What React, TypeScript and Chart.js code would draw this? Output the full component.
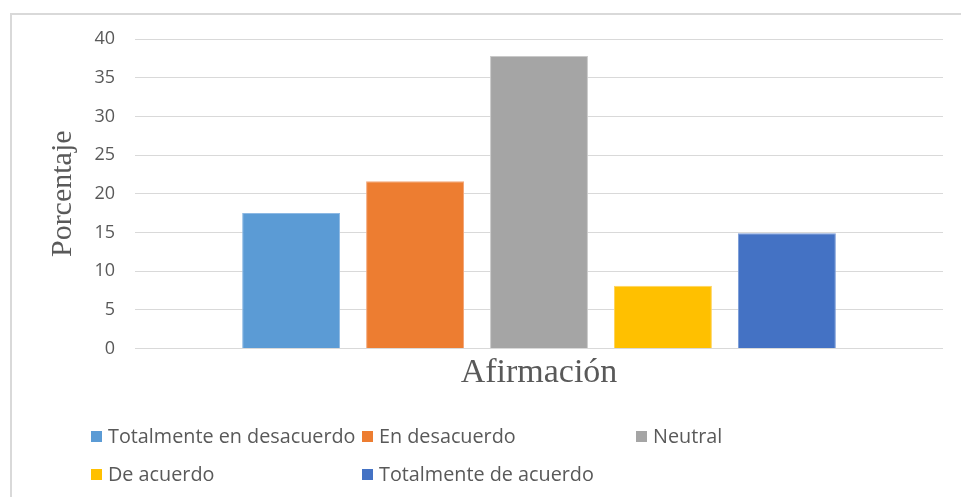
import { useEffect, useRef } from "react";
import { Chart, registerables } from "chart.js";

Chart.register(...registerables);

// Survey response distribution for one statement
const categories = [""];
const seriesNames = [
  "Totalmente en desacuerdo",
  "En desacuerdo",
  "Neutral",
  "De acuerdo",
  "Totalmente de acuerdo",
];
const seriesValues = [17.5, 21.6, 37.8, 8.1, 14.9];
const seriesColors = ["#5B9BD5", "#ED7D31", "#A5A5A5", "#FFC000", "#4472C4"];
const seriesEdges = ["#8DB9E4", "#F3A77A", "#C9C9C9", "#FFD45C", "#7C9CD8"];
const yMin = 0;
const yMax = 40;
const yStep = 5;
const xTitle = "Afirmación";
const yTitle = "Porcentaje";

const W = 961;
const H = 497;
const TEXT = "#595959";
const GRID = "#D9D9D9";

// legend grid: [left, centerY] for each entry
const legendSlots = [
  [91, 436],
  [362, 436],
  [636, 436],
  [91, 474],
  [362, 474],
];

export default function App() {
  const canvasRef = useRef<HTMLCanvasElement | null>(null);

  useEffect(() => {
    const canvas = canvasRef.current;
    if (!canvas) return;
    const chart = new Chart(canvas, {
      type: "bar",
      data: {
        labels: categories,
        datasets: seriesNames.map((name, i) => ({
          label: name,
          data: [seriesValues[i]],
          backgroundColor: seriesColors[i],
          borderColor: seriesEdges[i],
          borderWidth: 1,
          categoryPercentage: 0.767,
          barPercentage: 0.79,
        })),
      },
      options: {
        responsive: false,
        animation: false,
        devicePixelRatio: 1,
        layout: { padding: { top: 39, right: 18, bottom: 0, left: 0 } },
        plugins: {
          legend: { display: false },
          tooltip: { enabled: false },
        },
        scales: {
          x: {
            grid: { display: false, drawTicks: false },
            border: { display: false },
            ticks: { display: false },
            title: {
              display: true,
              text: xTitle,
              color: TEXT,
              font: { family: "'Liberation Serif', 'Times New Roman', serif", size: 34 },
              padding: { top: 0, bottom: 104 },
            },
            afterFit: (s: any) => {
              s.height = 148.5;
            },
          },
          y: {
            min: yMin,
            max: yMax,
            grid: { color: GRID, lineWidth: 1, drawTicks: false },
            border: { display: false },
            ticks: {
              stepSize: yStep,
              color: TEXT,
              padding: 20,
              font: { family: "'Open Sans', sans-serif", size: 18 },
            },
            title: {
              display: true,
              text: yTitle,
              color: TEXT,
              font: { family: "'Liberation Serif', 'Times New Roman', serif", size: 30 },
              padding: { top: 45, bottom: 0 },
            },
            afterFit: (s: any) => {
              s.width = 135;
            },
          },
        },
      },
    });
    return () => chart.destroy();
  }, []);

  return (
    <div
      style={{
        position: "fixed",
        left: 0,
        top: 0,
        width: W,
        height: H,
        background: "#fff",
        overflow: "hidden",
      }}
    >
      <div
        style={{
          position: "absolute",
          left: 10,
          top: 13,
          width: W,
          height: H,
          borderLeft: `2px solid ${GRID}`,
          borderTop: `2px solid ${GRID}`,
        }}
      />
      <canvas
        ref={canvasRef}
        width={W}
        height={H}
        style={{ position: "absolute", left: 0, top: 0, width: W, height: H }}
      />
      {seriesNames.map((name, i) => (
        <div
          key={name}
          style={{
            position: "absolute",
            left: legendSlots[i][0],
            top: legendSlots[i][1] - 12,
            height: 24,
            display: "flex",
            alignItems: "center",
            whiteSpace: "nowrap",
            fontFamily: "'Open Sans', sans-serif",
            fontSize: 19.8,
            lineHeight: "24px",
            color: TEXT,
          }}
        >
          <span
            style={{
              display: "inline-block",
              width: 11,
              height: 11,
              background: seriesColors[i],
              marginRight: 6,
            }}
          />
          <span>{name}</span>
        </div>
      ))}
    </div>
  );
}
